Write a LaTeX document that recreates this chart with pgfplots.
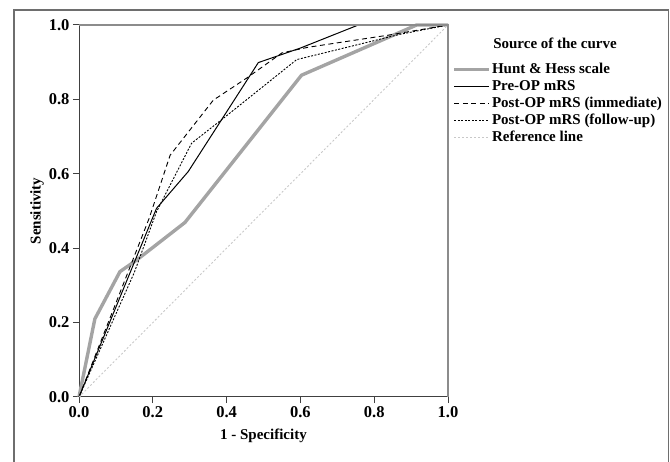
\documentclass[border=0pt]{standalone}
\usepackage{fontspec}
\setmainfont{Liberation Serif}
\usepackage{pgfplots}
\pgfplotsset{compat=1.18}

\newcommand\ff{\fontsize{15}{18}\selectfont\bfseries}
\newcommand\tf{\fontsize{16.5}{19}\selectfont\bfseries}
\definecolor{hhgray}{HTML}{A4A4A4}
\definecolor{refgray}{HTML}{C8C8C8}
\definecolor{framegray}{HTML}{6E6E6E}

\begin{document}
\begin{tikzpicture}[x=1pt,y=1pt]
\path[use as bounding box] (0,0) rectangle (670,461);
% outer frame (cropped at the bottom)
\draw[framegray, line width=1.3pt] (14,-20) -- (14,451) -- (668.5,451) -- (668.5,-20);

\begin{axis}[
    at={(79pt,64pt)}, anchor=south west,
    scale only axis,
    width=369pt, height=372pt,
    xmin=0, xmax=1, ymin=0, ymax=1,
    axis lines=left,
    axis line style={draw=black!75, line width=1pt, -},
    xtick={0,0.2,...,1}, ytick={0,0.2,...,1},
    tick align=outside,
    major tick length=6pt,
    tick style={black!75, line width=1pt},
    xticklabel style={/pgf/number format/.cd, fixed, fixed zerofill, precision=1},
    yticklabel style={/pgf/number format/.cd, fixed, fixed zerofill, precision=1},
    /pgf/number format/assume math mode=true,
    ticklabel style={font=\tf},
    label style={font=\ff},
    xlabel={1 - Specificity},
    ylabel={Sensitivity},
    xlabel style={at={(axis description cs:0.5,-0.105)}, anchor=center},
    ylabel style={at={(axis description cs:-0.114,0.5)}, anchor=center},
    clip=false,
    legend cell align=left,
    legend style={
        at={(rel axis cs:1.012,0.903)}, anchor=north west,
        draw=none, fill=none, inner sep=0pt,
        font=\ff,
        nodes={inner sep=1pt, text height=11pt, text depth=4pt},
        row sep=0pt,
    },
    legend image code/.code={\draw[#1] (0pt,0pt) -- (35pt,0pt);},
]
\addplot[hhgray, line width=3.4pt] coordinates {
    (0,0) (0.043,0.21) (0.111,0.337) (0.156,0.368) (0.287,0.469)
    (0.603,0.865) (0.915,1.0) (1,1)};
\addlegendentry{Hunt \& Hess scale}

\addplot[black, line width=1pt] coordinates {
    (0,0) (0.21,0.507) (0.296,0.606) (0.486,0.899) (0.6,0.938)
    (0.757,1.0) (1,1)};
\addlegendentry{Pre-OP mRS}

\addplot[black, line width=0.9pt, dash pattern=on 5pt off 3.5pt] coordinates {
    (0,0) (0.19,0.48) (0.247,0.65) (0.364,0.798) (0.454,0.857)
    (0.55,0.925) (0.62,0.94) (0.84,0.973) (1,1)};
\addlegendentry{Post-OP mRS (immediate)}

\addplot[black, line width=0.9pt, dash pattern=on 2pt off 1.5pt] coordinates {
    (0,0) (0.15,0.335) (0.21,0.498) (0.305,0.682) (0.391,0.749)
    (0.59,0.907) (0.87,0.975) (1,1)};
\addlegendentry{Post-OP mRS (follow-up)}

\addplot[refgray, line width=0.9pt, dash pattern=on 2pt off 2pt] coordinates {
    (0,0) (1,1)};
\addlegendentry{Reference line}

% top and right edges of the box, lighter than the axes
\draw[black!45, line width=1.6pt] (rel axis cs:0,1) -- (rel axis cs:1,1) -- (rel axis cs:1,0);

\node[font=\ff] at (rel axis cs:1.29,0.952) {Source of the curve};
\end{axis}
\end{tikzpicture}
\end{document}
